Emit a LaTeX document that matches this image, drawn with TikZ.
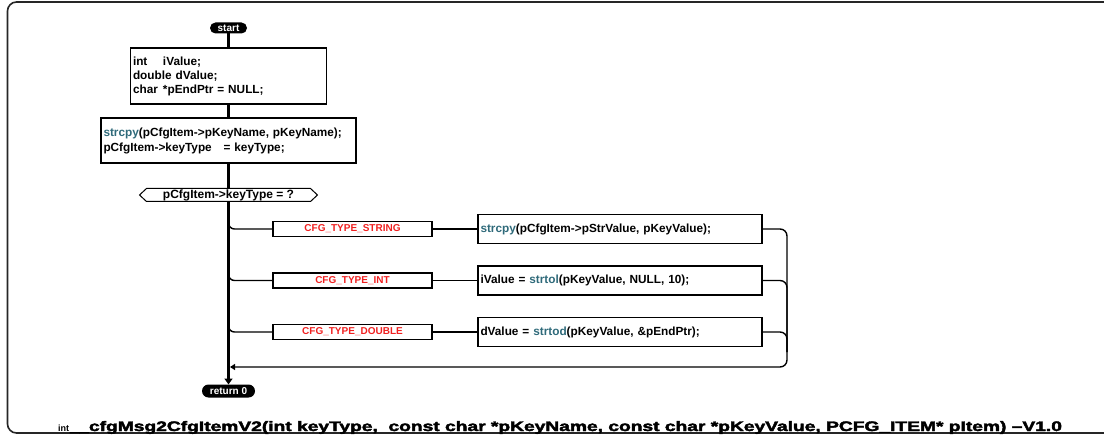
\documentclass[tikz,border=0pt]{standalone}
\usepackage{graphicx}
\usepackage{fontspec}
\setmainfont{Liberation Sans}
\newfontfamily\titlefont[FakeBold=2.5]{Liberation Sans Bold}
\usetikzlibrary{arrows.meta,calc}
\definecolor{fnteal}{HTML}{2F6A7A}
\definecolor{casered}{HTML}{F02020}
\newcommand{\fncall}[1]{\textcolor{fnteal}{#1}}

\begin{document}
\begin{tikzpicture}[x=1pt,y=-1pt,
  every node/.style={inner sep=0pt, outer sep=0pt},
  pill/.style={fill=black, text=white, minimum height=11pt, rounded corners=5.5pt,
    font=\bfseries\fontsize{10}{10}\selectfont},
  codebox/.style={draw, line width=1.1pt, anchor=north west, align=left,
    inner xsep=2.5pt, font=\bfseries\fontsize{11.8}{14}\selectfont},
  casebox/.style={draw, line width=1.1pt, minimum width=159pt, minimum height=15pt,
    anchor=west, text=casered, font=\bfseries\fontsize{10}{10}\selectfont},
  actbox/.style={draw, line width=1.1pt, minimum height=29pt, anchor=west,
    inner xsep=2.5pt, text width=279pt, align=left,
    font=\bfseries\fontsize{11.8}{14}\selectfont},
  spine/.style={line width=2.6pt},
  link/.style={line width=1.4pt},
  frameline/.style={line width=1.6pt, black!85},
]
\clip (0,0) rectangle (1104,441);

% outer frame, open to the right
\draw[frameline, rounded corners=9pt] (1110,2) -- (7.5,2) -- (7.5,433) -- (1110,433);

% terminals
\node[pill, minimum width=37pt] (start) at (228.5,28) {start};
\node[pill, minimum width=53pt, minimum height=13pt, rounded corners=6.5pt] (ret) at (228.5,391) {return 0};

% declarations and setup
\node[codebox, text width=191pt, minimum height=56pt] (decl) at (130.5,48)
  {\makebox[30pt][l]{int}iValue;\\ double dValue;\\ \makebox[30pt][l]{char}*pEndPtr = NULL;};
\node[codebox, text width=250pt, minimum height=45pt,
  font=\bfseries\fontsize{11.8}{15}\selectfont] (setup) at (101,118)
  {\fncall{strcpy}(pCfgItem->pKeyName, pKeyName);\\ pCfgItem->keyType\ \ \ = keyType;};

% switch on key type
\node[minimum width=178pt, minimum height=13pt,
  font=\bfseries\fontsize{12}{12}\selectfont] (sw) at (228.5,195) {pCfgItem->keyType = ?};
\draw[line width=1pt] (sw.west) -- ([xshift=7pt]sw.north west) -- ([xshift=-7pt]sw.north east)
  -- (sw.east) -- ([xshift=-7pt]sw.south east) -- ([xshift=7pt]sw.south west) -- cycle;

% cases
\node[casebox] (c1) at (273,229) {CFG\_TYPE\_STRING};
\node[casebox] (c2) at (273,280.5) {CFG\_TYPE\_INT};
\node[casebox] (c3) at (273,332) {CFG\_TYPE\_DOUBLE};

\node[actbox] (a1) at (478,229) {\fncall{strcpy}(pCfgItem->pStrValue, pKeyValue);};
\node[actbox] (a2) at (478,280.5) {iValue = \fncall{strtol}(pKeyValue, NULL, 10);};
\node[actbox] (a3) at (478,332) {dValue = \fncall{strtod}(pKeyValue, \&pEndPtr);};

% branch points on the spine and merge points on the right
\coordinate (b1) at (228.5,215);
\coordinate (b2) at (228.5,266.5);
\coordinate (b3) at (228.5,318);
\coordinate (m) at (787,367);
\coordinate (mv) at (787,352);
\coordinate (j) at (230,367);

% spine
\draw[spine] (start.south) -- (decl.north -| start.south);
\draw[spine] (decl.south -| start.south) -- (setup.north -| start.south);
\draw[spine] (setup.south -| start.south) -- (sw.north);
\draw[spine, -{Triangle[length=6pt,width=8pt]}] (sw.south) -- (ret.north);

% case branches
\foreach \b/\c/\a in {b1/c1/a1, b2/c2/a2, b3/c3/a3}{
  \draw[link, rounded corners=6pt] (\b) |- (\c.west);
  \draw[link] (\c.east) -- (\a.west);
}

% merge back into the spine
\draw[link, rounded corners=7pt, -{Triangle[length=5pt,width=6pt]}] (a1.east) -| (m) -- (j);
\draw[link, rounded corners=7pt] (a2.east) -| (mv);
\draw[link, rounded corners=7pt] (a3.east) -| (mv);

% function signature
\node[anchor=base west, font=\bfseries\fontsize{9}{9}\selectfont] (rtype) at (58,431) {int};
\node[anchor=base west] (sig) at (70,431)
  {\resizebox{19pt}{!}{\titlefont\_\_}\resizebox{973pt}{10pt}{\titlefont cfgMsg2CfgItemV2(int keyType,\ \ const char *pKeyName, const char *pKeyValue, PCFG\_ITEM* pItem) –V1.0}};
\end{tikzpicture}
\end{document}
